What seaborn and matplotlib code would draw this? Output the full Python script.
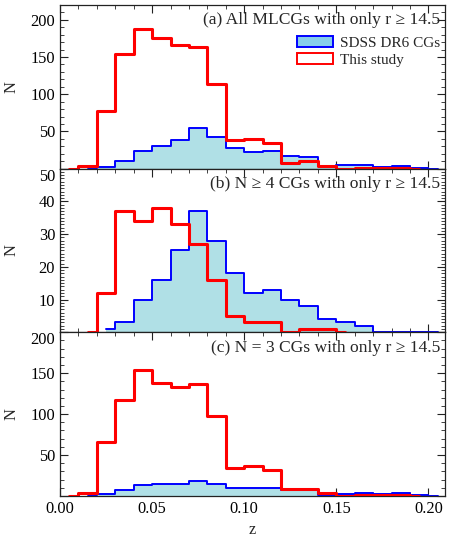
import numpy as np
import pandas as pd
import matplotlib
matplotlib.use("Agg")
import matplotlib.pyplot as plt
from matplotlib.patches import Patch
from matplotlib.ticker import MultipleLocator
import seaborn as sns

nan = np.nan
# bin centres (bin width 0.01)
z_centers = [0.005, 0.015, 0.025, 0.035, 0.045, 0.055, 0.065, 0.075, 0.085, 0.095,
             0.105, 0.115, 0.125, 0.135, 0.145, 0.155, 0.165, 0.175, 0.185, 0.195, 0.205]

# (a) All MLCGs
sdss_a = [nan, 1, 2, 10, 23, 30, 39, 55, 43, 28, 22, 23, 17, 15, 4, 5, 5, 2, 3, 1, 0]
study_a = [0, 4, 78, 154, 188, 176, 166, 164, 114, 39, 40, 35, 8, 10, 4, 0, 1, 1, 1, 0, nan]
# (b) N >= 4
sdss_b = [nan, nan, 1, 3, 10, 16, 25, 37, 28, 18, 12, 13, 10, 8, 4, 3, 2, 0, 0, 0, 0]
study_b = [nan, 0, 12, 37, 34, 38, 33, 27, 16, 5, 3, 3, 0, 1, 1, 0, nan, nan, nan, nan, nan]
# (c) N = 3
sdss_c = [nan, 1, 2, 7, 13, 14, 14, 18, 15, 10, 10, 10, 7, 7, 1, 2, 3, 2, 3, 1, 0]
study_c = [0, 4, 66, 117, 154, 138, 133, 137, 98, 34, 37, 32, 8, 9, 3, 0, 1, 1, 1, 0, nan]

panel_titles = ["(a) All MLCGs with only r \u2265 14.5",
                "(b) N \u2265 4 CGs with only r \u2265 14.5",
                "(c) N = 3 CGs with only r \u2265 14.5"]
legend_labels = ["SDSS DR6 CGs", "This study"]
x_ticks = [0.00, 0.05, 0.10, 0.15, 0.20]

sns.set_theme(style="ticks")
plt.rcParams["font.family"] = ["Liberation Serif", "DejaVu Serif"]

FS = 11.8
TFS = 12.6
LFS = 11.0
fill_col = "#B0E0E6"
blue = "#0000FF"
red = "#FF0000"
axcol = "#222222"

fig, axes = plt.subplots(3, 1, figsize=(4.63, 5.45), dpi=100, sharex=True)
fig.subplots_adjust(left=0.1296, right=0.961, top=0.991, bottom=0.09, hspace=0)

panels = [
    (sdss_a, study_a, (0, 220), 50, 10),
    (sdss_b, study_b, (0, 50), 10, 1),
    (sdss_c, study_c, (0, 200), 50, 10),
]

for i, (ax, (sd, st, ylim, maj, mnr)) in enumerate(zip(axes, panels)):
    df = pd.DataFrame({"z": z_centers, "sdss": sd, "study": st})
    valid = df.dropna(subset=["sdss"])
    ax.fill_between(valid["z"], valid["sdss"], step="mid", color=fill_col, lw=0, zorder=1)
    sns.lineplot(data=df, x="z", y="sdss", ax=ax, color=blue, lw=1.4,
                 drawstyle="steps-mid", estimator=None, sort=False, zorder=2)
    sns.lineplot(data=df, x="z", y="study", ax=ax, color=red, lw=2.2,
                 drawstyle="steps-mid", estimator=None, sort=False, zorder=3)
    ax.set_xlim(0, 0.209)
    ax.set_ylim(*ylim)
    ax.set_xticks(x_ticks)
    ax.xaxis.set_minor_locator(MultipleLocator(0.01))
    ax.yaxis.set_major_locator(MultipleLocator(maj))
    ax.yaxis.set_minor_locator(MultipleLocator(mnr))
    ax.tick_params(which="both", direction="in", top=True, right=True,
                   color=axcol, labelsize=FS, labelcolor="black")
    ax.tick_params(which="major", length=6, width=0.8)
    ax.tick_params(which="minor", length=3, width=0.6)
    for sp in ax.spines.values():
        sp.set_color(axcol)
        sp.set_linewidth(0.9)
    ax.set_ylabel("N", fontsize=FS)
    ax.set_xlabel("")
    ax.text(0.987, 0.905, panel_titles[i], transform=ax.transAxes,
            ha="right", va="center", fontsize=TFS)
    # hide the zero label
    yt = ax.get_yticks()
    ax.set_yticks(yt)
    ax.set_yticklabels(["" if v == 0 else f"{int(v)}" for v in yt])
    ax.set_ylim(*ylim)

for ax in axes[1:]:
    ticks = ax.yaxis.get_major_ticks()
    ymax = ax.get_ylim()[1]
    for t, v in zip(ticks, ax.get_yticks()):
        if abs(v - ymax) < 1e-9:
            t.label1.set_verticalalignment("top")

axes[2].set_xticklabels([f"{v:.2f}" for v in x_ticks])
axes[2].set_xlabel("z", fontsize=FS)
for ax in axes:
    ax.yaxis.set_label_coords(-0.105, 0.5)

handles = [Patch(facecolor="#87CEEB", edgecolor=blue, lw=1.4),
           Patch(facecolor="white", edgecolor=red, lw=1.4)]
axes[0].legend(handles, legend_labels, loc="upper right", bbox_to_anchor=(1.004, 0.845),
               frameon=False, fontsize=LFS, handlelength=2.4, handleheight=0.72,
               handletextpad=0.45, labelspacing=0.2, borderaxespad=0.0)

fig.savefig("out.png", dpi=100)
